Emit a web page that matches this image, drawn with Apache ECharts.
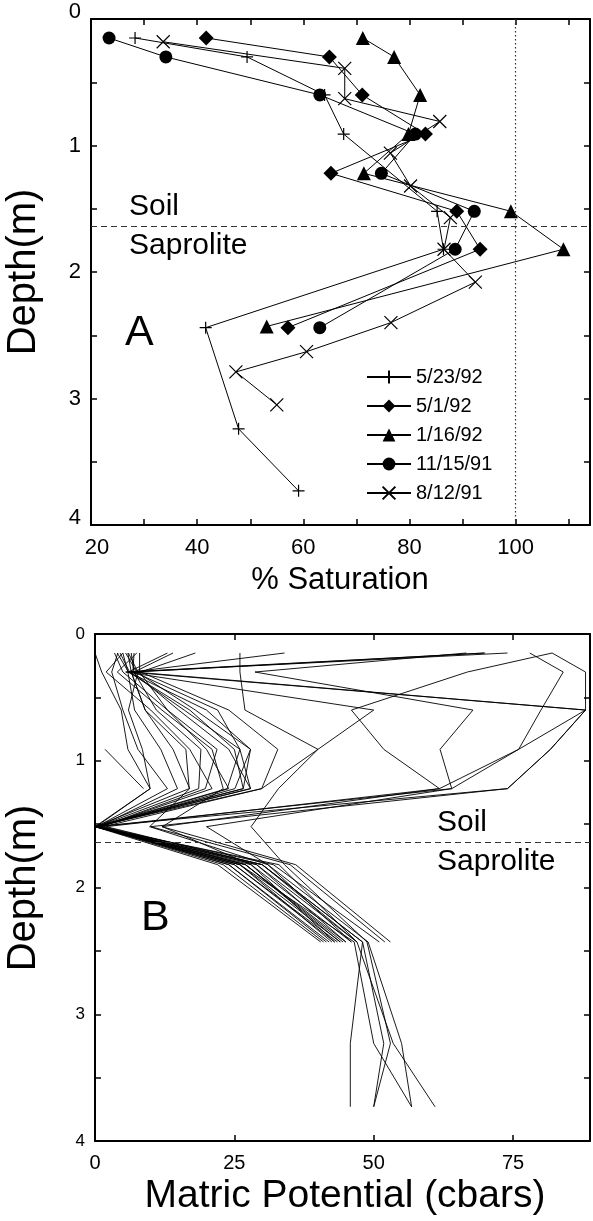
<!DOCTYPE html>
<html><head><meta charset="utf-8">
<script src="https://cdn.jsdelivr.net/npm/echarts@6/dist/echarts.min.js"></script>
<style>html,body{margin:0;padding:0;background:#fff}#c{width:593px;height:1221px}</style>
</head><body><div id="c"></div>
<script>
const FONT = '"Liberation Sans", Arial, sans-serif';

// ---------- Panel A: % Saturation vs depth ----------
const legendNames = ['5/23/92', '5/1/92', '1/16/92', '11/15/91', '8/12/91'];
const depth_5_23_92 = [0.15, 0.30, 0.60, 0.91, 1.52, 1.82, 2.44, 3.24, 3.73];
const sat_5_23_92   = [28.3, 49.4, 64.0, 67.6, 85.2, 86.4, 41.6, 47.8, 59.1];
const depth_5_1_92  = [0.15, 0.30, 0.60, 0.91, 1.22, 1.52, 1.82, 2.44];
const sat_5_1_92    = [41.7, 64.9, 71.1, 83.0, 65.2, 88.9, 93.3, 57.1];
const depth_1_16_92 = [0.15, 0.30, 0.60, 0.91, 1.22, 1.52, 1.82, 2.43];
const sat_1_16_92   = [71.2, 77.1, 82.0, 79.8, 71.4, 99.1, 109.0, 53.1];
const depth_11_15_91 = [0.15, 0.30, 0.60, 0.91, 1.22, 1.52, 1.82, 2.44];
const sat_11_15_91   = [23.4, 34.1, 63.1, 81.1, 74.7, 92.2, 88.6, 63.1];
const depth_8_12_91 = [0.18, 0.39, 0.63, 0.81, 1.06, 1.32, 1.57, 1.82, 2.08, 2.40, 2.63, 2.79, 3.05];
const sat_8_12_91   = [33.6, 67.8, 67.8, 85.7, 76.4, 80.2, 87.7, 86.5, 92.4, 76.5, 60.6, 47.3, 55.0];

const satTickLabels = [20, 40, 60, 80, 100];
const depthTickLabels = [0, 1, 2, 3, 4];
const SOIL_BOUNDARY = 1.64;
const SATURATION_LINE = 100;

// ---------- Panel B: Matric potential profiles ----------
const depthB = [0.15, 0.30, 0.60, 0.91, 1.22, 1.52, 1.82, 2.43, 3.23, 3.73];
const mp01 = [0, 1.2, 4.7, 5.9, 9.9, 0, 22, 40.5, null, null];
const mp02 = [4.1, 3, 5, 7.7, 13, 0.3, 23, 41, null, null];
const mp03 = [5, 5.9, 7.1, 11.8, 14.8, 0.6, 24, 42, null, null];
const mp04 = [5.9, 6.5, 9, 16.3, 16.9, 0, 25, 43, null, null];
const mp05 = [6.5, 7, 11, 19, 18.6, 0.4, 26, 44, null, null];
const mp06 = [8, 8, 13, 21.9, 19.8, 1, 27, 45, null, null];
const mp07 = [4.5, 6.2, 16, 26, 23.7, 0.2, 28, 46, null, null];
const mp08 = [5.5, 7.5, 18, 27.9, 25.1, 0.8, 29, 47, null, null];
const mp09 = [13, 6, 20, 27.9, 26.6, 0, 26, 42.5, null, null];
const mp10 = [14, 7, 22, 26, 27.9, 0.5, 27, 44.5, null, null];
const mp11 = [18, 8.2, 24, 32.8, 29.9, 1.5, 30, 48, 51.8, 50];
const mp12 = [34, 6.5, 9, 14, 17, 9.8, 31, 46, null, null];
const mp13 = [7.5, 4, 12, 21, 23, 12.1, 28, 43, null, null];
const mp14 = [6, 7.7, 6, 8.5, 9.9, 0.2, 24, 41.5, null, null];
const mp15 = [3.5, 5, 13, 20, 24, 0.6, 25, 43.5, null, null];
const mp16 = [7, 6.8, 15, 24, 27.9, 0, 26, 46.5, 50, 56.8];
const mp17 = [5, 2, 10, 17, 21, 1, 27, 44, null, null];
const mp18 = [4, 6, 17, 25, 26.6, 0.2, 29, 45, null, null];
const mp19 = [74, 6, 88, 81.7, 74, 0, 33, 47, 53.5, 61];
const mp20 = [70, 7, 88, 76, 64, 0.5, 32, 51, null, null];
const mp21 = [78, 84, 80, 76, 61.8, 12, 36, 53, null, null];
const mp22 = [82, 88, 88, 81.7, 74, 10, 35, 52, null, null];
const mp23 = [82, 66.8, 46, 51.8, 61.8, 2, 30, 48, 45.8, 45.8];
const mp24 = [66.6, 28.7, 67.8, 61.9, 64, 20, 31, 49, 55, 56.8];
const mp25 = [26, 26, 26.9, 40, 32.9, 28, 34, 48.8, 53, 50];
const mp26 = [69.8, 5.5, 50, 40, 29.9, 0, 30, 47, null, null];
const mp27 = [null, null, null, 1.8, 8.7, null, null, null, null, null];
const profilesB = [mp01, mp02, mp03, mp04, mp05, mp06, mp07, mp08, mp09, mp10, mp11, mp12, mp13,
  mp14, mp15, mp16, mp17, mp18, mp19, mp20, mp21, mp22, mp23, mp24, mp25, mp26, mp27];
const mpTickLabels = [0, 25, 50, 75];

// ---------- build ----------
const PLUS = 'path://M0,6L12,6M6,0L6,12';
const CROSS = 'path://M0,0L12,12M12,0L0,12';
function pairs(xs, ds) { return xs.map((x, i) => [x, ds[i]]).filter(p => p[0] !== null && p[0] !== undefined); }

const aDefs = [
  { name: legendNames[0], data: pairs(sat_5_23_92, depth_5_23_92), symbol: PLUS, size: 12, open: true },
  { name: legendNames[1], data: pairs(sat_5_1_92, depth_5_1_92), symbol: 'diamond', size: 15 },
  { name: legendNames[2], data: pairs(sat_1_16_92, depth_1_16_92), symbol: 'triangle', size: 14 },
  { name: legendNames[3], data: pairs(sat_11_15_91, depth_11_15_91), symbol: 'circle', size: 13 },
  { name: legendNames[4], data: pairs(sat_8_12_91, depth_8_12_91), symbol: CROSS, size: 13, open: true }
];

const series = aDefs.map((d, i) => {
  const s = {
    type: 'line', name: d.name, xAxisIndex: 0, yAxisIndex: 0, data: d.data,
    symbol: d.symbol, symbolSize: d.size, showSymbol: true,
    lineStyle: { color: '#000', width: 1 },
    itemStyle: d.open ? { color: 'rgba(0,0,0,0)', borderColor: '#000', borderWidth: 1.2 } : { color: '#000', borderWidth: 0 },
    emphasis: { disabled: true }, z: 3
  };
  if (i === 0) {
    s.markLine = {
      silent: true, symbol: 'none', label: { show: false }, animation: false,
      data: [
        { yAxis: SOIL_BOUNDARY, lineStyle: { type: [6, 4], color: '#333', width: 1 } },
        { xAxis: SATURATION_LINE, lineStyle: { type: [1.5, 2.5], color: '#333', width: 1.2 } }
      ]
    };
  }
  return s;
});

profilesB.forEach((row, i) => {
  const s = {
    type: 'line', name: 'profile' + (i + 1), xAxisIndex: 2, yAxisIndex: 2,
    data: pairs(row, depthB), showSymbol: false, symbol: 'none',
    lineStyle: { color: '#000', width: 0.9 }, emphasis: { disabled: true }, z: 2
  };
  if (i === 0) {
    s.markLine = {
      silent: true, symbol: 'none', label: { show: false }, animation: false,
      data: [{ yAxis: SOIL_BOUNDARY, lineStyle: { type: [6, 4], color: '#333', width: 1 } }]
    };
  }
  series.push(s);
});

const axisLine = { show: true, onZero: false, lineStyle: { color: '#000', width: 2 } };
const tick = { show: true, inside: true, length: 6, lineStyle: { color: '#000', width: 1.5 } };

const option = {
  animation: false,
  backgroundColor: '#fff',
  textStyle: { fontFamily: FONT },
  grid: [
    { left: 91, top: 19, width: 501, height: 506 },
    { left: 95, top: 634, width: 500, height: 507 }
  ],
  xAxis: [
    { gridIndex: 0, type: 'value', position: 'bottom', min: 20, max: 114, interval: 10,
      axisLine, axisTick: tick, splitLine: { show: false },
      axisLabel: { color: '#000', fontSize: 22, margin: 12, fontFamily: FONT,
        formatter: v => satTickLabels.includes(v) ? (v === 20 ? '{f|20}' : String(v)) : '',
        rich: { f: { padding: [0, 0, 0, 12], fontSize: 22, fontFamily: FONT, color: '#000' } } } },
    { gridIndex: 0, type: 'value', position: 'top', min: 20, max: 114, interval: 10,
      axisLine, axisTick: tick, axisLabel: { show: false }, splitLine: { show: false } },
    { gridIndex: 1, type: 'value', position: 'bottom', min: 0, max: 88.8, interval: 25,
      axisLine, axisTick: tick, splitLine: { show: false },
      axisLabel: { color: '#000', fontSize: 20, margin: 12, fontFamily: FONT,
        formatter: v => mpTickLabels.includes(v) ? String(v) : '' } },
    { gridIndex: 1, type: 'value', position: 'top', min: 0, max: 88.8, interval: 25,
      axisLine, axisTick: tick, axisLabel: { show: false }, splitLine: { show: false } }
  ],
  yAxis: [
    { gridIndex: 0, type: 'value', position: 'left', inverse: true, min: 0, max: 4, interval: 0.5,
      axisLine, axisTick: tick, splitLine: { show: false },
      axisLabel: { color: '#000', fontSize: 22, margin: 10, fontFamily: FONT,
        formatter: v => depthTickLabels.includes(v) ? ((v === 0 || v === 4) ? '{e|' + v + '}' : String(v)) : '',
        rich: { e: { padding: [0, 0, 14, 0], fontSize: 22, fontFamily: FONT, color: '#000' } } } },
    { gridIndex: 0, type: 'value', position: 'right', inverse: true, min: 0, max: 4, interval: 0.5,
      axisLine, axisTick: tick, axisLabel: { show: false }, splitLine: { show: false } },
    { gridIndex: 1, type: 'value', position: 'left', inverse: true, min: 0, max: 4, interval: 0.5,
      axisLine, axisTick: tick, splitLine: { show: false },
      axisLabel: { color: '#000', fontSize: 17, margin: 10, fontFamily: FONT,
        formatter: v => depthTickLabels.includes(v) ? String(v) : '' } },
    { gridIndex: 1, type: 'value', position: 'right', inverse: true, min: 0, max: 4, interval: 0.5,
      axisLine, axisTick: tick, axisLabel: { show: false }, splitLine: { show: false } }
  ],
  legend: {
    data: legendNames, orient: 'vertical', left: 361, top: 362,
    itemWidth: 44, itemHeight: 16, itemGap: 9, selectedMode: false,
    textStyle: { color: '#000', fontSize: 20, lineHeight: 16, fontFamily: FONT }
  },
  graphic: [
    { type: 'text', x: 24, y: 272, rotation: Math.PI / 2,
      style: { text: 'Depth(m)', font: '40px ' + FONT, fill: '#000', textAlign: 'center', textVerticalAlign: 'middle' } },
    { type: 'text', x: 340, y: 580,
      style: { text: '% Saturation', font: '31px ' + FONT, fill: '#000', textAlign: 'center', textVerticalAlign: 'middle' } },
    { type: 'text', x: 24, y: 888, rotation: Math.PI / 2,
      style: { text: 'Depth(m)', font: '40px ' + FONT, fill: '#000', textAlign: 'center', textVerticalAlign: 'middle' } },
    { type: 'text', x: 345, y: 1196,
      style: { text: 'Matric Potential (cbars)', font: '39px ' + FONT, fill: '#000', textAlign: 'center', textVerticalAlign: 'middle' } },
    { type: 'text', x: 125, y: 333,
      style: { text: 'A', font: '43px ' + FONT, fill: '#000', textAlign: 'left', textVerticalAlign: 'middle' } },
    { type: 'text', x: 141, y: 918,
      style: { text: 'B', font: '43px ' + FONT, fill: '#000', textAlign: 'left', textVerticalAlign: 'middle' } },
    { type: 'text', x: 129, y: 207,
      style: { text: 'Soil', font: '30px ' + FONT, fill: '#000', textAlign: 'left', textVerticalAlign: 'middle' } },
    { type: 'text', x: 129, y: 246,
      style: { text: 'Saprolite', font: '30px ' + FONT, fill: '#000', textAlign: 'left', textVerticalAlign: 'middle' } },
    { type: 'text', x: 437, y: 823,
      style: { text: 'Soil', font: '30px ' + FONT, fill: '#000', textAlign: 'left', textVerticalAlign: 'middle' } },
    { type: 'text', x: 437, y: 862,
      style: { text: 'Saprolite', font: '30px ' + FONT, fill: '#000', textAlign: 'left', textVerticalAlign: 'middle' } }
  ],
  series
};

const chart = echarts.init(document.getElementById('c'), null, { renderer: 'canvas' });
chart.setOption(option);
</script>
</body></html>
